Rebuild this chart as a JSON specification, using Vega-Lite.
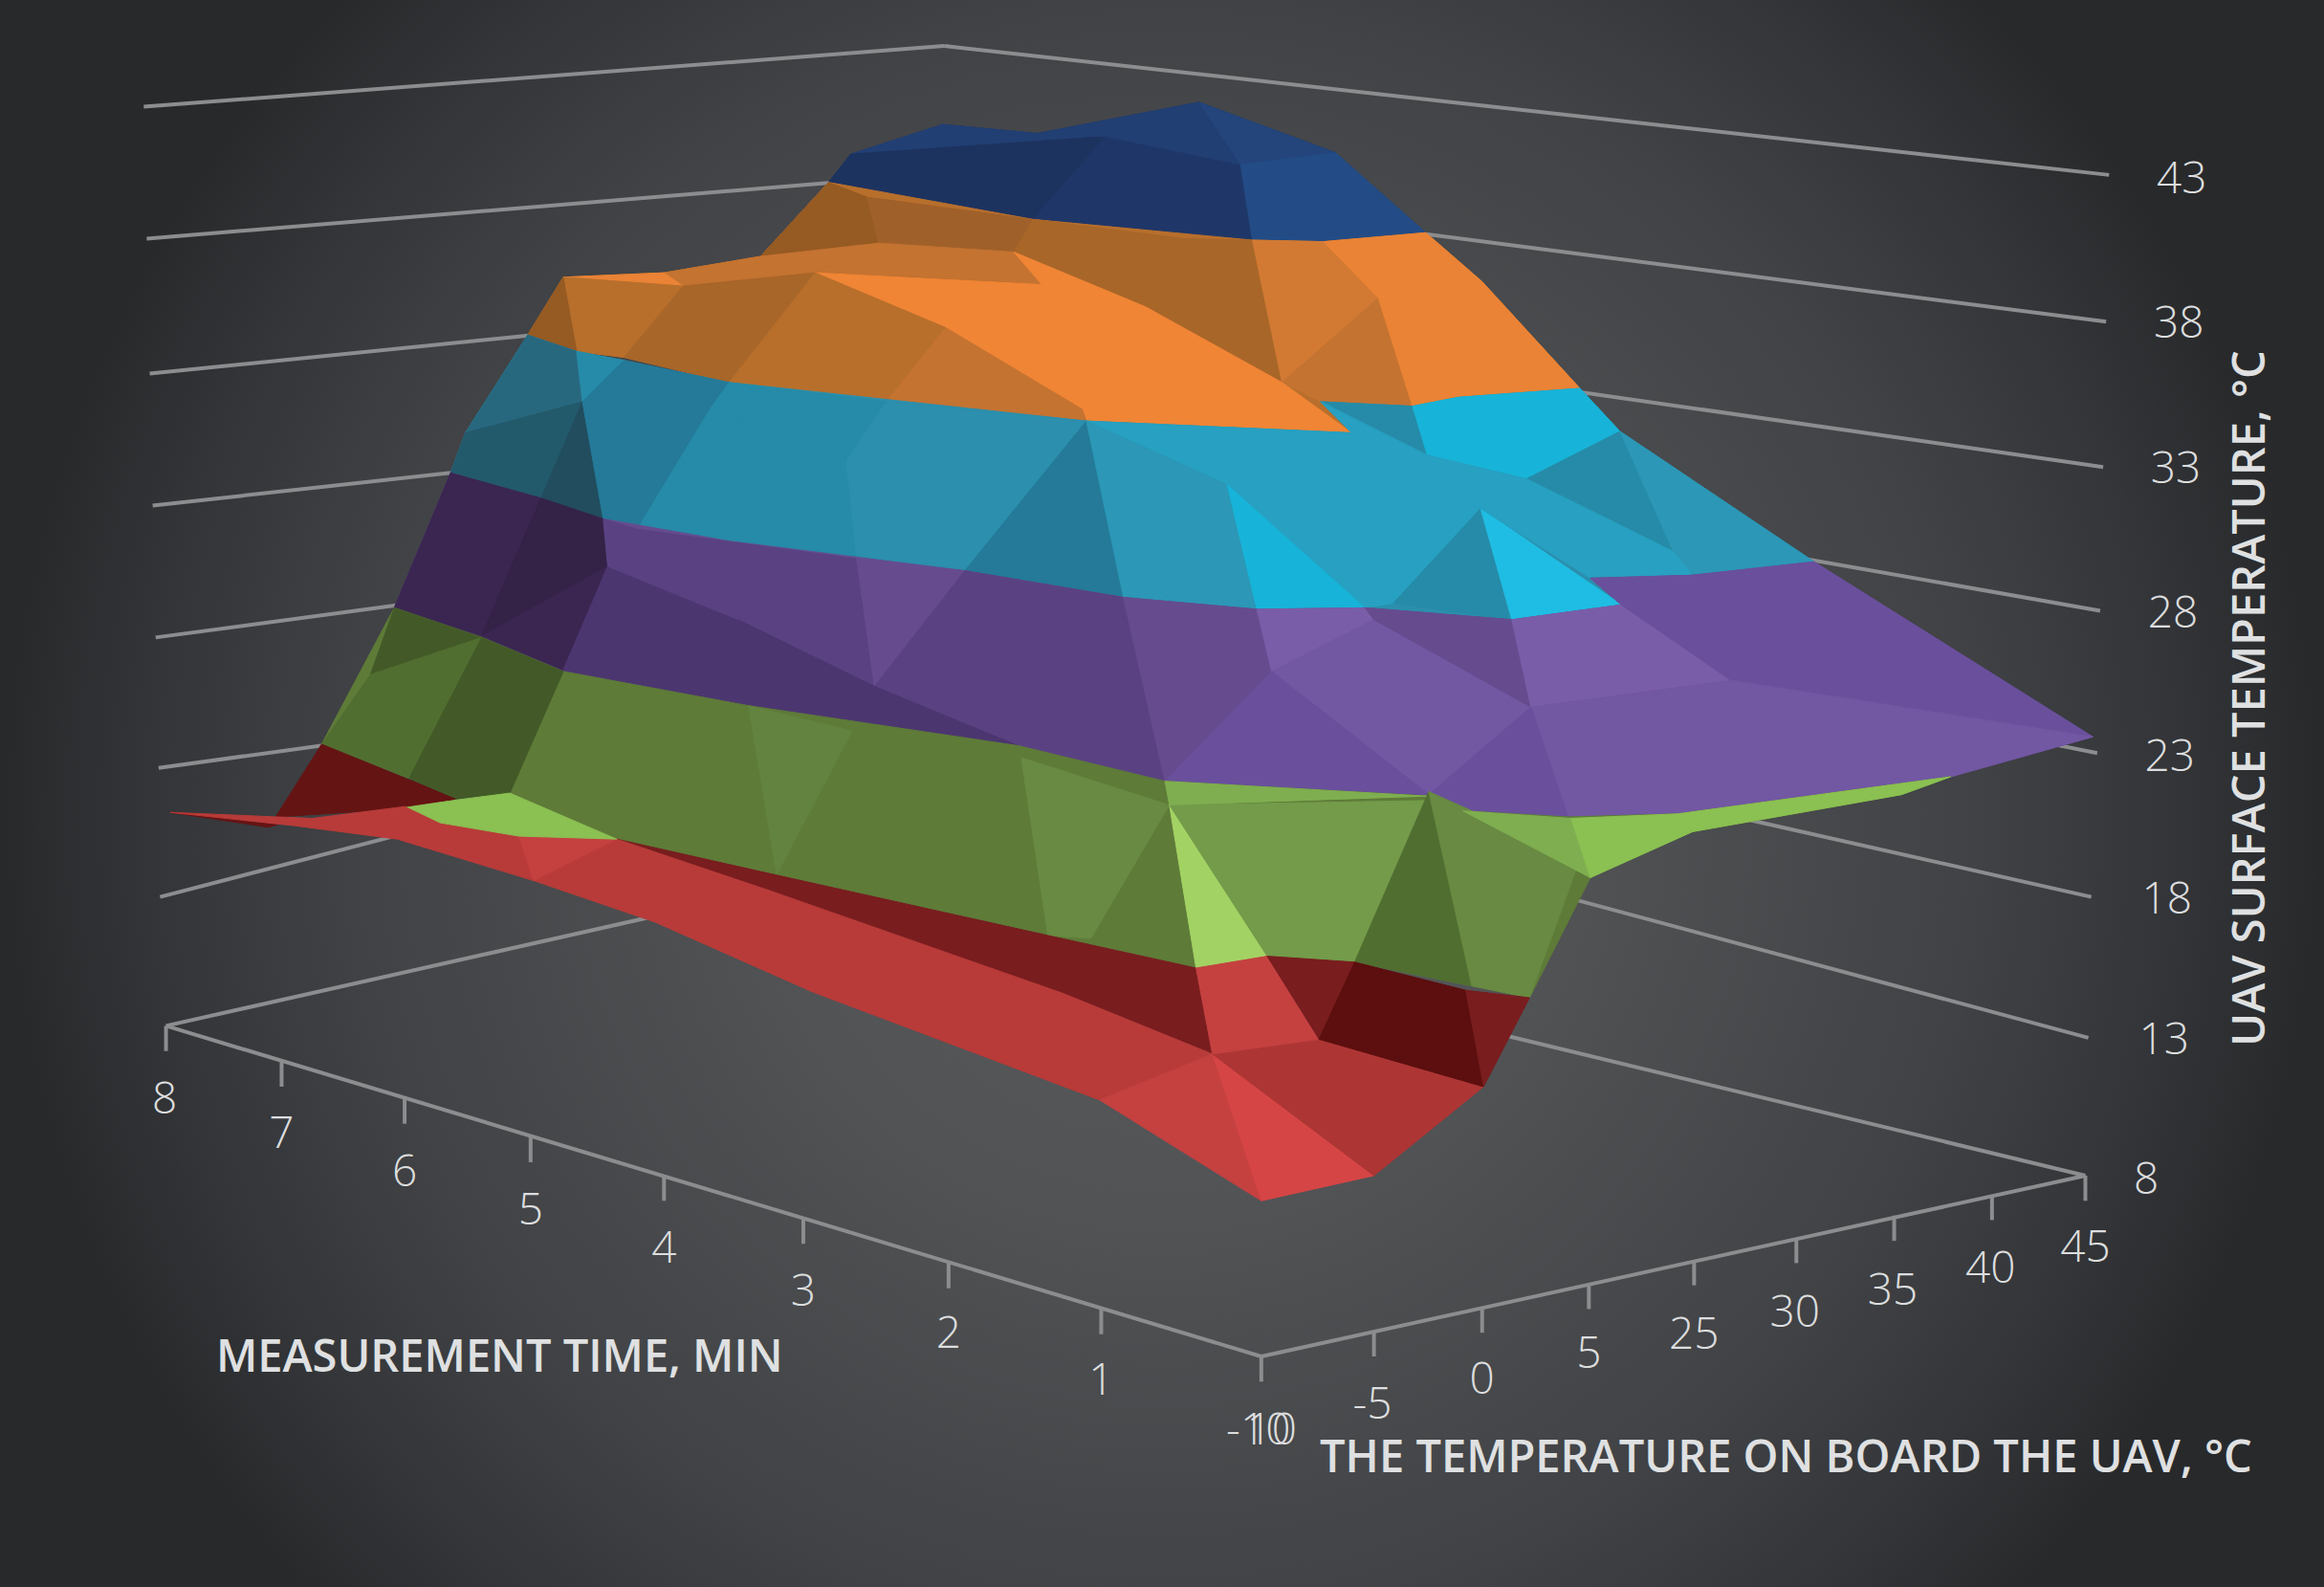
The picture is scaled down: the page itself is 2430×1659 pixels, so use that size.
{
  "$schema": "https://vega.github.io/schema/vega-lite/v6.json",
  "description": "3D surface of UAV surface temperature against on-board temperature and measurement time, drawn as projected facets",
  "width": 2430,
  "height": 1659,
  "padding": 0,
  "autosize": {"type": "fit", "contains": "padding"},
  "background": "#2c2d2f",
  "datasets": {
    "page": [{"x": 0, "x2": 1568, "y": -200, "y2": 1300}],
    "lines": [
      {"x": 97, "y": 72, "x2": 637, "y2": 31},
      {"x": 637, "y": 31, "x2": 1423, "y2": 118},
      {"x": 99, "y": 161, "x2": 600, "y2": 120},
      {"x": 101, "y": 252, "x2": 400, "y2": 222},
      {"x": 103, "y": 341, "x2": 340, "y2": 315},
      {"x": 105, "y": 430, "x2": 300, "y2": 404},
      {"x": 107, "y": 518, "x2": 260, "y2": 497},
      {"x": 108, "y": 605, "x2": 320, "y2": 550},
      {"x": 112, "y": 692, "x2": 700, "y2": 560},
      {"x": 900, "y": 150, "x2": 1421, "y2": 217},
      {"x": 1000, "y": 255, "x2": 1419, "y2": 315},
      {"x": 1150, "y": 365, "x2": 1417, "y2": 412},
      {"x": 1350, "y": 495, "x2": 1415, "y2": 508},
      {"x": 1100, "y": 535, "x2": 1411, "y2": 605},
      {"x": 1000, "y": 590, "x2": 1409, "y2": 700},
      {"x": 960, "y": 685, "x2": 1407, "y2": 793},
      {"x": 112, "y": 692, "x2": 851, "y2": 915},
      {"x": 851, "y": 915, "x2": 1407, "y2": 793},
      {"x": 112, "y": 692, "x2": 112, "y2": 709},
      {"x": 190, "y": 716, "x2": 190, "y2": 733},
      {"x": 273, "y": 741, "x2": 273, "y2": 758},
      {"x": 358, "y": 767, "x2": 358, "y2": 784},
      {"x": 448, "y": 793, "x2": 448, "y2": 810},
      {"x": 542, "y": 822, "x2": 542, "y2": 839},
      {"x": 640, "y": 852, "x2": 640, "y2": 869},
      {"x": 743, "y": 883, "x2": 743, "y2": 900},
      {"x": 851, "y": 915, "x2": 851, "y2": 932},
      {"x": 927, "y": 898, "x2": 927, "y2": 915},
      {"x": 1000, "y": 882, "x2": 1000, "y2": 899},
      {"x": 1072, "y": 866, "x2": 1072, "y2": 883},
      {"x": 1143, "y": 850, "x2": 1143, "y2": 867},
      {"x": 1212, "y": 835, "x2": 1212, "y2": 852},
      {"x": 1278, "y": 820, "x2": 1278, "y2": 837},
      {"x": 1344, "y": 806, "x2": 1344, "y2": 823},
      {"x": 1407, "y": 793, "x2": 1407, "y2": 810}
    ],
    "ticks": [
      {"label": "43", "x": 1472, "y": 121}, {"label": "38", "x": 1470, "y": 219},
      {"label": "33", "x": 1468, "y": 317}, {"label": "28", "x": 1466, "y": 414},
      {"label": "23", "x": 1464, "y": 511}, {"label": "18", "x": 1462, "y": 607},
      {"label": "13", "x": 1460, "y": 702}, {"label": "8", "x": 1448, "y": 796},
      {"label": "8", "x": 111, "y": 742}, {"label": "7", "x": 190, "y": 765},
      {"label": "6", "x": 273, "y": 791}, {"label": "5", "x": 358, "y": 817},
      {"label": "4", "x": 448, "y": 843}, {"label": "3", "x": 542, "y": 872},
      {"label": "2", "x": 640, "y": 900}, {"label": "1", "x": 743, "y": 932},
      {"label": "-10", "x": 849, "y": 965}, {"label": "10", "x": 858, "y": 965},
      {"label": "-5", "x": 926, "y": 948}, {"label": "0", "x": 1000, "y": 931},
      {"label": "5", "x": 1072, "y": 914}, {"label": "25", "x": 1143, "y": 901},
      {"label": "30", "x": 1211, "y": 886}, {"label": "35", "x": 1277, "y": 871},
      {"label": "40", "x": 1343, "y": 856}, {"label": "45", "x": 1407, "y": 842}
    ],
    "titles": [
      {"label": "MEASUREMENT TIME, MIN", "x": 337, "y": 916},
      {"label": "THE TEMPERATURE ON BOARD THE UAV, °C", "x": 1205, "y": 984}
    ],
    "ytitle": [{"label": "UAV SURFACE TEMPERATURE, °C", "x": 1519, "y": 471}],
    "facets": [
      {"facet":1,"shade":"b2","i":0,"x":559,"y":123},{"facet":1,"shade":"b2","i":1,"x":574,"y":104},{"facet":1,"shade":"b2","i":2,"x":636,"y":84},{"facet":1,"shade":"b2","i":3,"x":700,"y":90},{"facet":1,"shade":"b2","i":4,"x":809,"y":69},{"facet":1,"shade":"b2","i":5,"x":901,"y":103},{"facet":1,"shade":"b2","i":6,"x":962,"y":157},{"facet":1,"shade":"b2","i":7,"x":893,"y":163},{"facet":1,"shade":"b2","i":8,"x":845,"y":162},{"facet":1,"shade":"b2","i":9,"x":697,"y":148},
      {"facet":2,"shade":"b3","i":0,"x":574,"y":104},{"facet":2,"shade":"b3","i":1,"x":636,"y":84},{"facet":2,"shade":"b3","i":2,"x":700,"y":90},{"facet":2,"shade":"b3","i":3,"x":746,"y":92},
      {"facet":3,"shade":"b1","i":0,"x":574,"y":104},{"facet":3,"shade":"b1","i":1,"x":746,"y":92},{"facet":3,"shade":"b1","i":2,"x":697,"y":148},{"facet":3,"shade":"b1","i":3,"x":559,"y":123},
      {"facet":4,"shade":"b2","i":0,"x":746,"y":92},{"facet":4,"shade":"b2","i":1,"x":837,"y":111},{"facet":4,"shade":"b2","i":2,"x":845,"y":162},{"facet":4,"shade":"b2","i":3,"x":697,"y":148},
      {"facet":5,"shade":"b3","i":0,"x":746,"y":92},{"facet":5,"shade":"b3","i":1,"x":700,"y":90},{"facet":5,"shade":"b3","i":2,"x":809,"y":69},{"facet":5,"shade":"b3","i":3,"x":837,"y":111},
      {"facet":6,"shade":"b4","i":0,"x":809,"y":69},{"facet":6,"shade":"b4","i":1,"x":901,"y":103},{"facet":6,"shade":"b4","i":2,"x":837,"y":111},
      {"facet":7,"shade":"b5","i":0,"x":837,"y":111},{"facet":7,"shade":"b5","i":1,"x":901,"y":103},{"facet":7,"shade":"b5","i":2,"x":962,"y":157},{"facet":7,"shade":"b5","i":3,"x":893,"y":163},{"facet":7,"shade":"b5","i":4,"x":845,"y":162},

      {"facet":8,"shade":"o4","i":0,"x":559,"y":123},{"facet":8,"shade":"o4","i":1,"x":697,"y":148},{"facet":8,"shade":"o4","i":2,"x":845,"y":162},{"facet":8,"shade":"o4","i":3,"x":893,"y":163},{"facet":8,"shade":"o4","i":4,"x":962,"y":157},{"facet":8,"shade":"o4","i":5,"x":1000,"y":190},{"facet":8,"shade":"o4","i":6,"x":1066,"y":262},{"facet":8,"shade":"o4","i":7,"x":984,"y":268},{"facet":8,"shade":"o4","i":8,"x":953,"y":274},{"facet":8,"shade":"o4","i":9,"x":891,"y":271},{"facet":8,"shade":"o4","i":10,"x":912,"y":292},{"facet":8,"shade":"o4","i":11,"x":733,"y":284},{"facet":8,"shade":"o4","i":12,"x":598,"y":271},{"facet":8,"shade":"o4","i":13,"x":492,"y":258},{"facet":8,"shade":"o4","i":14,"x":421,"y":241},{"facet":8,"shade":"o4","i":15,"x":389,"y":237},{"facet":8,"shade":"o4","i":16,"x":356,"y":226},{"facet":8,"shade":"o4","i":17,"x":380,"y":187},{"facet":8,"shade":"o4","i":18,"x":448,"y":184},{"facet":8,"shade":"o4","i":19,"x":513,"y":173},
      {"facet":9,"shade":"o1","i":0,"x":559,"y":123},{"facet":9,"shade":"o1","i":1,"x":585,"y":133},{"facet":9,"shade":"o1","i":2,"x":593,"y":164},{"facet":9,"shade":"o1","i":3,"x":513,"y":173},
      {"facet":10,"shade":"o2","i":0,"x":585,"y":133},{"facet":10,"shade":"o2","i":1,"x":697,"y":148},{"facet":10,"shade":"o2","i":2,"x":684,"y":170},{"facet":10,"shade":"o2","i":3,"x":593,"y":164},
      {"facet":11,"shade":"o3","i":0,"x":697,"y":148},{"facet":11,"shade":"o3","i":1,"x":799,"y":161},{"facet":11,"shade":"o3","i":2,"x":773,"y":207},{"facet":11,"shade":"o3","i":3,"x":684,"y":170},
      {"facet":12,"shade":"o3","i":0,"x":799,"y":161},{"facet":12,"shade":"o3","i":1,"x":845,"y":162},{"facet":12,"shade":"o3","i":2,"x":865,"y":258},{"facet":12,"shade":"o3","i":3,"x":773,"y":207},
      {"facet":13,"shade":"o6","i":0,"x":845,"y":162},{"facet":13,"shade":"o6","i":1,"x":893,"y":163},{"facet":13,"shade":"o6","i":2,"x":930,"y":201},{"facet":13,"shade":"o6","i":3,"x":865,"y":258},
      {"facet":14,"shade":"o5","i":0,"x":930,"y":201},{"facet":14,"shade":"o5","i":1,"x":953,"y":274},{"facet":14,"shade":"o5","i":2,"x":891,"y":271},{"facet":14,"shade":"o5","i":3,"x":865,"y":258},
      {"facet":15,"shade":"o7","i":0,"x":893,"y":163},{"facet":15,"shade":"o7","i":1,"x":962,"y":157},{"facet":15,"shade":"o7","i":2,"x":1000,"y":190},{"facet":15,"shade":"o7","i":3,"x":1066,"y":262},{"facet":15,"shade":"o7","i":4,"x":984,"y":268},{"facet":15,"shade":"o7","i":5,"x":953,"y":274},{"facet":15,"shade":"o7","i":6,"x":930,"y":201},
      {"facet":16,"shade":"o5","i":0,"x":513,"y":173},{"facet":16,"shade":"o5","i":1,"x":593,"y":164},{"facet":16,"shade":"o5","i":2,"x":550,"y":184},{"facet":16,"shade":"o5","i":3,"x":461,"y":193},{"facet":16,"shade":"o5","i":4,"x":448,"y":184},
      {"facet":17,"shade":"o7","i":0,"x":380,"y":187},{"facet":17,"shade":"o7","i":1,"x":448,"y":184},{"facet":17,"shade":"o7","i":2,"x":461,"y":193},
      {"facet":18,"shade":"o5","i":0,"x":593,"y":164},{"facet":18,"shade":"o5","i":1,"x":684,"y":170},{"facet":18,"shade":"o5","i":2,"x":703,"y":192},{"facet":18,"shade":"o5","i":3,"x":611,"y":186},{"facet":18,"shade":"o5","i":4,"x":550,"y":184},
      {"facet":19,"shade":"o8","i":0,"x":550,"y":184},{"facet":19,"shade":"o8","i":1,"x":703,"y":192},{"facet":19,"shade":"o8","i":2,"x":684,"y":170},{"facet":19,"shade":"o8","i":3,"x":773,"y":207},{"facet":19,"shade":"o8","i":4,"x":865,"y":258},{"facet":19,"shade":"o8","i":5,"x":912,"y":292},{"facet":19,"shade":"o8","i":6,"x":733,"y":284},{"facet":19,"shade":"o8","i":7,"x":730,"y":276},{"facet":19,"shade":"o8","i":8,"x":638,"y":221},
      {"facet":20,"shade":"o4","i":0,"x":380,"y":187},{"facet":20,"shade":"o4","i":1,"x":461,"y":193},{"facet":20,"shade":"o4","i":2,"x":421,"y":241},{"facet":20,"shade":"o4","i":3,"x":389,"y":237},
      {"facet":21,"shade":"o1","i":0,"x":380,"y":187},{"facet":21,"shade":"o1","i":1,"x":389,"y":237},{"facet":21,"shade":"o1","i":2,"x":356,"y":226},
      {"facet":22,"shade":"o3","i":0,"x":461,"y":193},{"facet":22,"shade":"o3","i":1,"x":550,"y":184},{"facet":22,"shade":"o3","i":2,"x":492,"y":258},{"facet":22,"shade":"o3","i":3,"x":421,"y":241},
      {"facet":23,"shade":"o4","i":0,"x":550,"y":184},{"facet":23,"shade":"o4","i":1,"x":638,"y":221},{"facet":23,"shade":"o4","i":2,"x":598,"y":271},{"facet":23,"shade":"o4","i":3,"x":492,"y":258},
      {"facet":24,"shade":"o5","i":0,"x":638,"y":221},{"facet":24,"shade":"o5","i":1,"x":730,"y":276},{"facet":24,"shade":"o5","i":2,"x":733,"y":284},{"facet":24,"shade":"o5","i":3,"x":598,"y":271},

      {"facet":30,"shade":"t6","i":0,"x":356,"y":226},{"facet":30,"shade":"t6","i":1,"x":389,"y":237},{"facet":30,"shade":"t6","i":2,"x":492,"y":258},{"facet":30,"shade":"t6","i":3,"x":733,"y":284},{"facet":30,"shade":"t6","i":4,"x":912,"y":292},{"facet":30,"shade":"t6","i":5,"x":891,"y":271},{"facet":30,"shade":"t6","i":6,"x":953,"y":274},{"facet":30,"shade":"t6","i":7,"x":984,"y":268},{"facet":30,"shade":"t6","i":8,"x":1066,"y":262},{"facet":30,"shade":"t6","i":9,"x":1093,"y":291},{"facet":30,"shade":"t6","i":10,"x":1224,"y":379},{"facet":30,"shade":"t6","i":11,"x":1142,"y":388},{"facet":30,"shade":"t6","i":12,"x":1073,"y":390},{"facet":30,"shade":"t6","i":13,"x":1094,"y":408},{"facet":30,"shade":"t6","i":14,"x":1020,"y":418},{"facet":30,"shade":"t6","i":15,"x":921,"y":410},{"facet":30,"shade":"t6","i":16,"x":848,"y":411},{"facet":30,"shade":"t6","i":17,"x":758,"y":403},{"facet":30,"shade":"t6","i":18,"x":651,"y":385},{"facet":30,"shade":"t6","i":19,"x":492,"y":365},{"facet":30,"shade":"t6","i":20,"x":407,"y":350},{"facet":30,"shade":"t6","i":21,"x":304,"y":319},{"facet":30,"shade":"t6","i":22,"x":314,"y":292},
      {"facet":31,"shade":"t3","i":0,"x":356,"y":226},{"facet":31,"shade":"t3","i":1,"x":389,"y":237},{"facet":31,"shade":"t3","i":2,"x":393,"y":271},{"facet":31,"shade":"t3","i":3,"x":314,"y":292},
      {"facet":32,"shade":"t2","i":0,"x":314,"y":292},{"facet":32,"shade":"t2","i":1,"x":393,"y":271},{"facet":32,"shade":"t2","i":2,"x":365,"y":336},{"facet":32,"shade":"t2","i":3,"x":304,"y":319},
      {"facet":33,"shade":"t1","i":0,"x":393,"y":271},{"facet":33,"shade":"t1","i":1,"x":407,"y":350},{"facet":33,"shade":"t1","i":2,"x":365,"y":336},
      {"facet":34,"shade":"t5","i":0,"x":389,"y":237},{"facet":34,"shade":"t5","i":1,"x":421,"y":243},{"facet":34,"shade":"t5","i":2,"x":393,"y":271},
      {"facet":35,"shade":"t4","i":0,"x":421,"y":243},{"facet":35,"shade":"t4","i":1,"x":492,"y":258},{"facet":35,"shade":"t4","i":2,"x":479,"y":276},{"facet":35,"shade":"t4","i":3,"x":393,"y":271},
      {"facet":36,"shade":"t4","i":0,"x":393,"y":271},{"facet":36,"shade":"t4","i":1,"x":479,"y":276},{"facet":36,"shade":"t4","i":2,"x":430,"y":357},{"facet":36,"shade":"t4","i":3,"x":407,"y":350},
      {"facet":37,"shade":"t5","i":0,"x":492,"y":258},{"facet":37,"shade":"t5","i":1,"x":598,"y":271},{"facet":37,"shade":"t5","i":2,"x":571,"y":311},{"facet":37,"shade":"t5","i":3,"x":479,"y":276},
      {"facet":38,"shade":"t5","i":0,"x":479,"y":276},{"facet":38,"shade":"t5","i":1,"x":571,"y":311},{"facet":38,"shade":"t5","i":2,"x":578,"y":377},{"facet":38,"shade":"t5","i":3,"x":492,"y":365},{"facet":38,"shade":"t5","i":4,"x":430,"y":357},
      {"facet":39,"shade":"t6","i":0,"x":598,"y":271},{"facet":39,"shade":"t6","i":1,"x":733,"y":284},{"facet":39,"shade":"t6","i":2,"x":651,"y":385},{"facet":39,"shade":"t6","i":3,"x":578,"y":377},{"facet":39,"shade":"t6","i":4,"x":571,"y":311},
      {"facet":40,"shade":"t4","i":0,"x":733,"y":284},{"facet":40,"shade":"t4","i":1,"x":758,"y":403},{"facet":40,"shade":"t4","i":2,"x":651,"y":385},
      {"facet":41,"shade":"t8","i":0,"x":733,"y":284},{"facet":41,"shade":"t8","i":1,"x":912,"y":292},{"facet":41,"shade":"t8","i":2,"x":999,"y":343},{"facet":41,"shade":"t8","i":3,"x":940,"y":407},{"facet":41,"shade":"t8","i":4,"x":921,"y":410},{"facet":41,"shade":"t8","i":5,"x":828,"y":327},
      {"facet":42,"shade":"t7","i":0,"x":733,"y":284},{"facet":42,"shade":"t7","i":1,"x":828,"y":327},{"facet":42,"shade":"t7","i":2,"x":848,"y":411},{"facet":42,"shade":"t7","i":3,"x":758,"y":403},
      {"facet":43,"shade":"t9","i":0,"x":828,"y":327},{"facet":43,"shade":"t9","i":1,"x":921,"y":410},{"facet":43,"shade":"t9","i":2,"x":848,"y":411},
      {"facet":44,"shade":"t5","i":0,"x":999,"y":343},{"facet":44,"shade":"t5","i":1,"x":1020,"y":418},{"facet":44,"shade":"t5","i":2,"x":940,"y":407},
      {"facet":45,"shade":"t10","i":0,"x":999,"y":343},{"facet":45,"shade":"t10","i":1,"x":1094,"y":408},{"facet":45,"shade":"t10","i":2,"x":1020,"y":418},
      {"facet":46,"shade":"t5","i":0,"x":891,"y":271},{"facet":46,"shade":"t5","i":1,"x":953,"y":274},{"facet":46,"shade":"t5","i":2,"x":963,"y":307},
      {"facet":47,"shade":"t9","i":0,"x":953,"y":274},{"facet":47,"shade":"t9","i":1,"x":984,"y":268},{"facet":47,"shade":"t9","i":2,"x":1066,"y":262},{"facet":47,"shade":"t9","i":3,"x":1093,"y":291},{"facet":47,"shade":"t9","i":4,"x":1030,"y":323},{"facet":47,"shade":"t9","i":5,"x":963,"y":307},
      {"facet":48,"shade":"t5","i":0,"x":1030,"y":323},{"facet":48,"shade":"t5","i":1,"x":1093,"y":291},{"facet":48,"shade":"t5","i":2,"x":1129,"y":372},
      {"facet":49,"shade":"t7","i":0,"x":1093,"y":291},{"facet":49,"shade":"t7","i":1,"x":1224,"y":379},{"facet":49,"shade":"t7","i":2,"x":1142,"y":388},{"facet":49,"shade":"t7","i":3,"x":1129,"y":372},
      {"facet":50,"shade":"t8","i":0,"x":891,"y":271},{"facet":50,"shade":"t8","i":1,"x":963,"y":307},{"facet":50,"shade":"t8","i":2,"x":1030,"y":323},{"facet":50,"shade":"t8","i":3,"x":1129,"y":372},{"facet":50,"shade":"t8","i":4,"x":1142,"y":388},{"facet":50,"shade":"t8","i":5,"x":1073,"y":390},{"facet":50,"shade":"t8","i":6,"x":999,"y":343},{"facet":50,"shade":"t8","i":7,"x":912,"y":292},

      {"facet":60,"shade":"p5","i":0,"x":304,"y":319},{"facet":60,"shade":"p5","i":1,"x":407,"y":350},{"facet":60,"shade":"p5","i":2,"x":492,"y":365},{"facet":60,"shade":"p5","i":3,"x":651,"y":385},{"facet":60,"shade":"p5","i":4,"x":758,"y":403},{"facet":60,"shade":"p5","i":5,"x":848,"y":411},{"facet":60,"shade":"p5","i":6,"x":921,"y":410},{"facet":60,"shade":"p5","i":7,"x":1020,"y":418},{"facet":60,"shade":"p5","i":8,"x":1094,"y":408},{"facet":60,"shade":"p5","i":9,"x":1073,"y":390},{"facet":60,"shade":"p5","i":10,"x":1142,"y":388},{"facet":60,"shade":"p5","i":11,"x":1224,"y":379},{"facet":60,"shade":"p5","i":12,"x":1412,"y":497},{"facet":60,"shade":"p5","i":13,"x":1316,"y":524},{"facet":60,"shade":"p5","i":14,"x":1132,"y":549},{"facet":60,"shade":"p5","i":15,"x":1058,"y":551},{"facet":60,"shade":"p5","i":16,"x":964,"y":536},{"facet":60,"shade":"p5","i":17,"x":786,"y":527},{"facet":60,"shade":"p5","i":18,"x":687,"y":503},{"facet":60,"shade":"p5","i":19,"x":505,"y":476},{"facet":60,"shade":"p5","i":20,"x":380,"y":452},{"facet":60,"shade":"p5","i":21,"x":325,"y":429},{"facet":60,"shade":"p5","i":22,"x":266,"y":410},
      {"facet":61,"shade":"p2","i":0,"x":304,"y":319},{"facet":61,"shade":"p2","i":1,"x":365,"y":336},{"facet":61,"shade":"p2","i":2,"x":325,"y":429},{"facet":61,"shade":"p2","i":3,"x":266,"y":410},
      {"facet":62,"shade":"p1","i":0,"x":365,"y":336},{"facet":62,"shade":"p1","i":1,"x":407,"y":350},{"facet":62,"shade":"p1","i":2,"x":410,"y":382},{"facet":62,"shade":"p1","i":3,"x":325,"y":429},
      {"facet":63,"shade":"p2","i":0,"x":410,"y":382},{"facet":63,"shade":"p2","i":1,"x":380,"y":452},{"facet":63,"shade":"p2","i":2,"x":325,"y":429},
      {"facet":64,"shade":"p4","i":0,"x":407,"y":350},{"facet":64,"shade":"p4","i":1,"x":430,"y":357},{"facet":64,"shade":"p4","i":2,"x":410,"y":382},
      {"facet":65,"shade":"p3","i":0,"x":410,"y":382},{"facet":65,"shade":"p3","i":1,"x":498,"y":418},{"facet":65,"shade":"p3","i":2,"x":505,"y":476},{"facet":65,"shade":"p3","i":3,"x":380,"y":452},
      {"facet":66,"shade":"p4","i":0,"x":430,"y":357},{"facet":66,"shade":"p4","i":1,"x":578,"y":377},{"facet":66,"shade":"p4","i":2,"x":590,"y":463},{"facet":66,"shade":"p4","i":3,"x":498,"y":418},{"facet":66,"shade":"p4","i":4,"x":410,"y":382},
      {"facet":67,"shade":"p3","i":0,"x":498,"y":418},{"facet":67,"shade":"p3","i":1,"x":590,"y":463},{"facet":67,"shade":"p3","i":2,"x":613,"y":495},{"facet":67,"shade":"p3","i":3,"x":505,"y":476},
      {"facet":68,"shade":"p5","i":0,"x":578,"y":377},{"facet":68,"shade":"p5","i":1,"x":651,"y":385},{"facet":68,"shade":"p5","i":2,"x":590,"y":463},
      {"facet":69,"shade":"p4","i":0,"x":651,"y":385},{"facet":69,"shade":"p4","i":1,"x":758,"y":403},{"facet":69,"shade":"p4","i":2,"x":786,"y":527},{"facet":69,"shade":"p4","i":3,"x":687,"y":503},{"facet":69,"shade":"p4","i":4,"x":590,"y":463},
      {"facet":70,"shade":"p3","i":0,"x":590,"y":463},{"facet":70,"shade":"p3","i":1,"x":687,"y":503},{"facet":70,"shade":"p3","i":2,"x":613,"y":495},
      {"facet":71,"shade":"p5","i":0,"x":758,"y":403},{"facet":71,"shade":"p5","i":1,"x":848,"y":411},{"facet":71,"shade":"p5","i":2,"x":858,"y":453},{"facet":71,"shade":"p5","i":3,"x":786,"y":527},
      {"facet":72,"shade":"p8","i":0,"x":848,"y":411},{"facet":72,"shade":"p8","i":1,"x":921,"y":410},{"facet":72,"shade":"p8","i":2,"x":927,"y":418},{"facet":72,"shade":"p8","i":3,"x":858,"y":453},
      {"facet":73,"shade":"p7","i":0,"x":858,"y":453},{"facet":73,"shade":"p7","i":1,"x":927,"y":418},{"facet":73,"shade":"p7","i":2,"x":1033,"y":477},{"facet":73,"shade":"p7","i":3,"x":964,"y":536},
      {"facet":74,"shade":"p6","i":0,"x":858,"y":453},{"facet":74,"shade":"p6","i":1,"x":964,"y":536},{"facet":74,"shade":"p6","i":2,"x":786,"y":527},
      {"facet":75,"shade":"p5","i":0,"x":921,"y":410},{"facet":75,"shade":"p5","i":1,"x":1020,"y":418},{"facet":75,"shade":"p5","i":2,"x":1033,"y":477},{"facet":75,"shade":"p5","i":3,"x":927,"y":418},
      {"facet":76,"shade":"p8","i":0,"x":1020,"y":418},{"facet":76,"shade":"p8","i":1,"x":1094,"y":408},{"facet":76,"shade":"p8","i":2,"x":1168,"y":459},{"facet":76,"shade":"p8","i":3,"x":1033,"y":477},
      {"facet":77,"shade":"p6","i":0,"x":1094,"y":408},{"facet":77,"shade":"p6","i":1,"x":1073,"y":390},{"facet":77,"shade":"p6","i":2,"x":1142,"y":388},{"facet":77,"shade":"p6","i":3,"x":1224,"y":379},{"facet":77,"shade":"p6","i":4,"x":1412,"y":497},{"facet":77,"shade":"p6","i":5,"x":1168,"y":459},
      {"facet":78,"shade":"p7","i":0,"x":1168,"y":459},{"facet":78,"shade":"p7","i":1,"x":1412,"y":497},{"facet":78,"shade":"p7","i":2,"x":1316,"y":524},{"facet":78,"shade":"p7","i":3,"x":1132,"y":549},{"facet":78,"shade":"p7","i":4,"x":1058,"y":551},{"facet":78,"shade":"p7","i":5,"x":1033,"y":477},
      {"facet":79,"shade":"p6","i":0,"x":1033,"y":477},{"facet":79,"shade":"p6","i":1,"x":1058,"y":551},{"facet":79,"shade":"p6","i":2,"x":987,"y":547},{"facet":79,"shade":"p6","i":3,"x":964,"y":536},

      {"facet":90,"shade":"g3","i":0,"x":266,"y":410},{"facet":90,"shade":"g3","i":1,"x":325,"y":430},{"facet":90,"shade":"g3","i":2,"x":380,"y":453},{"facet":90,"shade":"g3","i":3,"x":505,"y":476},{"facet":90,"shade":"g3","i":4,"x":687,"y":503},{"facet":90,"shade":"g3","i":5,"x":786,"y":527},{"facet":90,"shade":"g3","i":6,"x":963,"y":537},{"facet":90,"shade":"g3","i":7,"x":987,"y":547},{"facet":90,"shade":"g3","i":8,"x":1058,"y":551},{"facet":90,"shade":"g3","i":9,"x":1132,"y":549},{"facet":90,"shade":"g3","i":10,"x":1316,"y":524},{"facet":90,"shade":"g3","i":11,"x":1283,"y":536},{"facet":90,"shade":"g3","i":12,"x":1142,"y":561},{"facet":90,"shade":"g3","i":13,"x":1073,"y":592},{"facet":90,"shade":"g3","i":14,"x":1032,"y":673},{"facet":90,"shade":"g3","i":15,"x":914,"y":649},{"facet":90,"shade":"g3","i":16,"x":855,"y":645},{"facet":90,"shade":"g3","i":17,"x":807,"y":653},{"facet":90,"shade":"g3","i":18,"x":518,"y":589},{"facet":90,"shade":"g3","i":19,"x":416,"y":566},{"facet":90,"shade":"g3","i":20,"x":344,"y":535},{"facet":90,"shade":"g3","i":21,"x":276,"y":525},{"facet":90,"shade":"g3","i":22,"x":217,"y":502},
      {"facet":91,"shade":"g1","i":0,"x":266,"y":410},{"facet":91,"shade":"g1","i":1,"x":325,"y":430},{"facet":91,"shade":"g1","i":2,"x":250,"y":455},
      {"facet":92,"shade":"g2","i":0,"x":250,"y":455},{"facet":92,"shade":"g2","i":1,"x":325,"y":430},{"facet":92,"shade":"g2","i":2,"x":276,"y":525},{"facet":92,"shade":"g2","i":3,"x":217,"y":502},
      {"facet":93,"shade":"g1","i":0,"x":325,"y":430},{"facet":93,"shade":"g1","i":1,"x":380,"y":453},{"facet":93,"shade":"g1","i":2,"x":344,"y":535},{"facet":93,"shade":"g1","i":3,"x":307,"y":539},{"facet":93,"shade":"g1","i":4,"x":276,"y":525},
      {"facet":94,"shade":"g3b","i":0,"x":505,"y":476},{"facet":94,"shade":"g3b","i":1,"x":575,"y":493},{"facet":94,"shade":"g3b","i":2,"x":524,"y":590},
      {"facet":95,"shade":"g4","i":0,"x":689,"y":511},{"facet":95,"shade":"g4","i":1,"x":789,"y":543},{"facet":95,"shade":"g4","i":2,"x":736,"y":633},{"facet":95,"shade":"g4","i":3,"x":707,"y":631},
      {"facet":96,"shade":"g8","i":0,"x":789,"y":543},{"facet":96,"shade":"g8","i":1,"x":855,"y":645},{"facet":96,"shade":"g8","i":2,"x":807,"y":653},
      {"facet":97,"shade":"g5","i":0,"x":789,"y":543},{"facet":97,"shade":"g5","i":1,"x":963,"y":540},{"facet":97,"shade":"g5","i":2,"x":914,"y":649},{"facet":97,"shade":"g5","i":3,"x":855,"y":645},
      {"facet":98,"shade":"g6","i":0,"x":786,"y":527},{"facet":98,"shade":"g6","i":1,"x":963,"y":537},{"facet":98,"shade":"g6","i":2,"x":789,"y":543},
      {"facet":99,"shade":"g2","i":0,"x":964,"y":534},{"facet":99,"shade":"g2","i":1,"x":993,"y":665},{"facet":99,"shade":"g2","i":2,"x":914,"y":649},
      {"facet":100,"shade":"g4","i":0,"x":964,"y":534},{"facet":100,"shade":"g4","i":1,"x":991,"y":546},{"facet":100,"shade":"g4","i":2,"x":1064,"y":585},{"facet":100,"shade":"g4","i":3,"x":1032,"y":673},{"facet":100,"shade":"g4","i":4,"x":993,"y":665},
      {"facet":101,"shade":"g6","i":0,"x":987,"y":547},{"facet":101,"shade":"g6","i":1,"x":1060,"y":552},{"facet":101,"shade":"g6","i":2,"x":1073,"y":592},
      {"facet":102,"shade":"g7","i":0,"x":1060,"y":552},{"facet":102,"shade":"g7","i":1,"x":1132,"y":549},{"facet":102,"shade":"g7","i":2,"x":1142,"y":561},{"facet":102,"shade":"g7","i":3,"x":1073,"y":592},
      {"facet":103,"shade":"g7","i":0,"x":1132,"y":549},{"facet":103,"shade":"g7","i":1,"x":1316,"y":524},{"facet":103,"shade":"g7","i":2,"x":1283,"y":536},{"facet":103,"shade":"g7","i":3,"x":1142,"y":561},

      {"facet":110,"shade":"r2","i":0,"x":217,"y":502},{"facet":110,"shade":"r2","i":1,"x":276,"y":526},{"facet":110,"shade":"r2","i":2,"x":307,"y":539},{"facet":110,"shade":"r2","i":3,"x":266,"y":546},{"facet":110,"shade":"r2","i":4,"x":186,"y":551},
      {"facet":111,"shade":"r2","i":0,"x":115,"y":548},{"facet":111,"shade":"r2","i":1,"x":199,"y":553},{"facet":111,"shade":"r2","i":2,"x":181,"y":558},
      {"facet":112,"shade":"r3","i":0,"x":416,"y":566},{"facet":112,"shade":"r3","i":1,"x":518,"y":589},{"facet":112,"shade":"r3","i":2,"x":707,"y":631},{"facet":112,"shade":"r3","i":3,"x":807,"y":653},{"facet":112,"shade":"r3","i":4,"x":818,"y":711},{"facet":112,"shade":"r3","i":5,"x":717,"y":670},{"facet":112,"shade":"r3","i":6,"x":520,"y":601},
      {"facet":113,"shade":"r5","i":0,"x":115,"y":548},{"facet":113,"shade":"r5","i":1,"x":186,"y":551},{"facet":113,"shade":"r5","i":2,"x":211,"y":552},{"facet":113,"shade":"r5","i":3,"x":274,"y":544},{"facet":113,"shade":"r5","i":4,"x":297,"y":555},{"facet":113,"shade":"r5","i":5,"x":350,"y":564},{"facet":113,"shade":"r5","i":6,"x":416,"y":566},{"facet":113,"shade":"r5","i":7,"x":520,"y":601},{"facet":113,"shade":"r5","i":8,"x":717,"y":670},{"facet":113,"shade":"r5","i":9,"x":818,"y":711},{"facet":113,"shade":"r5","i":10,"x":742,"y":742},{"facet":113,"shade":"r5","i":11,"x":548,"y":669},{"facet":113,"shade":"r5","i":12,"x":442,"y":622},{"facet":113,"shade":"r5","i":13,"x":360,"y":594},{"facet":113,"shade":"r5","i":14,"x":268,"y":566},{"facet":113,"shade":"r5","i":15,"x":199,"y":557},
      {"facet":114,"shade":"r6","i":0,"x":350,"y":564},{"facet":114,"shade":"r6","i":1,"x":416,"y":566},{"facet":114,"shade":"r6","i":2,"x":360,"y":594},
      {"facet":115,"shade":"r6","i":0,"x":818,"y":711},{"facet":115,"shade":"r6","i":1,"x":851,"y":810},{"facet":115,"shade":"r6","i":2,"x":742,"y":742},
      {"facet":116,"shade":"r7","i":0,"x":818,"y":711},{"facet":116,"shade":"r7","i":1,"x":927,"y":793},{"facet":116,"shade":"r7","i":2,"x":851,"y":810},
      {"facet":117,"shade":"r4","i":0,"x":818,"y":711},{"facet":117,"shade":"r4","i":1,"x":890,"y":701},{"facet":117,"shade":"r4","i":2,"x":1001,"y":733},{"facet":117,"shade":"r4","i":3,"x":927,"y":793},
      {"facet":118,"shade":"r6","i":0,"x":807,"y":653},{"facet":118,"shade":"r6","i":1,"x":855,"y":645},{"facet":118,"shade":"r6","i":2,"x":890,"y":701},{"facet":118,"shade":"r6","i":3,"x":818,"y":711},
      {"facet":119,"shade":"r3","i":0,"x":855,"y":645},{"facet":119,"shade":"r3","i":1,"x":914,"y":649},{"facet":119,"shade":"r3","i":2,"x":890,"y":701},
      {"facet":120,"shade":"r1","i":0,"x":914,"y":649},{"facet":120,"shade":"r1","i":1,"x":989,"y":668},{"facet":120,"shade":"r1","i":2,"x":1001,"y":733},{"facet":120,"shade":"r1","i":3,"x":890,"y":701},
      {"facet":121,"shade":"r3","i":0,"x":989,"y":668},{"facet":121,"shade":"r3","i":1,"x":1032,"y":673},{"facet":121,"shade":"r3","i":2,"x":1001,"y":733},
      {"facet":122,"shade":"g7","i":0,"x":274,"y":544},{"facet":122,"shade":"g7","i":1,"x":344,"y":535},{"facet":122,"shade":"g7","i":2,"x":416,"y":566},{"facet":122,"shade":"g7","i":3,"x":350,"y":564},{"facet":122,"shade":"g7","i":4,"x":297,"y":555},
      {"facet":123,"shade":"r2","i":0,"x":276,"y":526},{"facet":123,"shade":"r2","i":1,"x":307,"y":539},{"facet":123,"shade":"r2","i":2,"x":274,"y":544}
    ]
  },
  "layer": [
    {
      "data": {"name": "page"},
      "mark": {
        "type": "rect",
        "clip": true,
        "fill": {
          "gradient": "radial",
          "x1": 0.5, "y1": 0.5, "r1": 0,
          "x2": 0.5, "y2": 0.5, "r2": 0.5,
          "stops": [
            {"offset": 0, "color": "#58595b"},
            {"offset": 0.32, "color": "#525456"},
            {"offset": 0.7, "color": "#404245"},
            {"offset": 0.88, "color": "#323437"},
            {"offset": 1, "color": "#28292b"}
          ]
        }
      },
      "encoding": {
        "x": {"field": "x", "type": "quantitative", "scale": {"domain": [0, 1568], "nice": false, "zero": false}, "axis": null},
        "x2": {"field": "x2"},
        "y": {"field": "y", "type": "quantitative", "scale": {"domain": [1070.5, 0], "nice": false, "zero": false}, "axis": null},
        "y2": {"field": "y2"}
      }
    },
    {
      "data": {"name": "lines"},
      "mark": {"type": "rule", "color": "#8c8d8f", "strokeWidth": 4},
      "encoding": {
        "x": {"field": "x", "type": "quantitative"},
        "y": {"field": "y", "type": "quantitative"},
        "x2": {"field": "x2"},
        "y2": {"field": "y2"}
      }
    },
    {
      "data": {"name": "facets"},
      "mark": {"type": "line", "strokeWidth": 1, "interpolate": "linear-closed"},
      "encoding": {
        "x": {"field": "x", "type": "quantitative"},
        "y": {"field": "y", "type": "quantitative"},
        "detail": {"field": "facet", "type": "nominal"},
        "order": {"field": "i", "type": "quantitative"},
        "fill": {
          "field": "shade", "type": "nominal", "legend": null,
          "scale": {
            "domain": ["b1","b2","b3","b4","b5","o1","o2","o3","o4","o5","o6","o7","o8","t1","t2","t3","t4","t5","t6","t7","t8","t9","t10","p1","p2","p3","p4","p5","p6","p7","p8","g1","g2","g3","g3b","g4","g5","g6","g7","g8","r1","r2","r3","r4","r5","r6","r7"],
            "range": ["#1d335f","#1f3768","#223f74","#24457c","#234c86","#965a23","#a0602a","#a86629","#b86f2c","#c47331","#d27a33","#ea8335","#f08535","#214d5f","#235a6b","#28687f","#247a98","#268ba8","#2b8fad","#2c97b6","#27a0c1","#18b3d8","#1fbde3","#352247","#3b2652","#4c3670","#5a4282","#664c8f","#6a509c","#7257a3","#7a5da8","#435a28","#516e31","#5e7b38","#638340","#688a42","#739b4a","#7fae50","#8bc052","#a3d264","#5c0f0e","#651414","#791d1f","#ad3635","#b83b39","#c44140","#d64545"]
          }
        },
        "stroke": {
          "field": "shade", "type": "nominal", "legend": null,
          "scale": {
            "domain": ["b1","b2","b3","b4","b5","o1","o2","o3","o4","o5","o6","o7","o8","t1","t2","t3","t4","t5","t6","t7","t8","t9","t10","p1","p2","p3","p4","p5","p6","p7","p8","g1","g2","g3","g3b","g4","g5","g6","g7","g8","r1","r2","r3","r4","r5","r6","r7"],
            "range": ["#1d335f","#1f3768","#223f74","#24457c","#234c86","#965a23","#a0602a","#a86629","#b86f2c","#c47331","#d27a33","#ea8335","#f08535","#214d5f","#235a6b","#28687f","#247a98","#268ba8","#2b8fad","#2c97b6","#27a0c1","#18b3d8","#1fbde3","#352247","#3b2652","#4c3670","#5a4282","#664c8f","#6a509c","#7257a3","#7a5da8","#435a28","#516e31","#5e7b38","#638340","#688a42","#739b4a","#7fae50","#8bc052","#a3d264","#5c0f0e","#651414","#791d1f","#ad3635","#b83b39","#c44140","#d64545"]
          }
        }
      }
    },
    {
      "data": {"name": "ticks"},
      "mark": {"type": "text", "font": "Open Sans", "fontSize": 46, "fontWeight": 300, "color": "#dcddde", "align": "center", "baseline": "middle"},
      "encoding": {
        "x": {"field": "x", "type": "quantitative"},
        "y": {"field": "y", "type": "quantitative"},
        "text": {"field": "label"}
      }
    },
    {
      "data": {"name": "titles"},
      "mark": {"type": "text", "font": "Open Sans", "fontSize": 47, "fontWeight": 600, "color": "#dfe0e1", "align": "center", "baseline": "middle"},
      "encoding": {
        "x": {"field": "x", "type": "quantitative"},
        "y": {"field": "y", "type": "quantitative"},
        "text": {"field": "label"}
      }
    },
    {
      "data": {"name": "ytitle"},
      "mark": {"type": "text", "font": "Open Sans", "fontSize": 47, "fontWeight": 600, "color": "#dfe0e1", "align": "center", "baseline": "middle", "angle": 270},
      "encoding": {
        "x": {"field": "x", "type": "quantitative"},
        "y": {"field": "y", "type": "quantitative"},
        "text": {"field": "label"}
      }
    }
  ]
}
